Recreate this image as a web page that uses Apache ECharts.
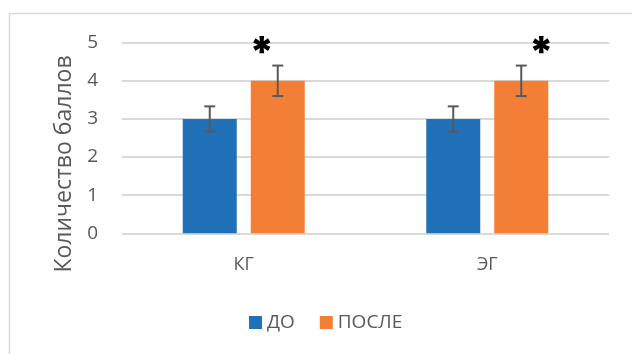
<!DOCTYPE html>
<html>
<head>
<meta charset="utf-8">
<script src="https://cdn.jsdelivr.net/npm/echarts@6/dist/echarts.min.js"></script>
<style>
  html, body { margin: 0; padding: 0; background: #fff; }
  #chart { width: 632px; height: 354px; }
</style>
</head>
<body>
<div id="chart"></div>
<script>
// Scores before and after, per group
const categories = ['КГ', 'ЭГ'];
const seriesNames = ['ДО', 'ПОСЛЕ'];
const valuesBefore = [3, 3];
const valuesAfter = [4, 4];
const errorsBefore = [0.33, 0.33];
const errorsAfter = [0.4, 0.4];
const marksAfter = ['*', '*'];
const yTicks = [0, 1, 2, 3, 4, 5];
const yTitle = 'Количество баллов';

const BLUE = '#2171b9';
const ORANGE = '#f27f35';
const TEXT = '#595959';
const GRID = '#d9d9d9';
const FONT = '"Open Sans", "Noto Sans", sans-serif';

const BAR_W = 54;
const BAR_GAP = 14;
const HALF_STEP = (BAR_W + BAR_GAP) / 2;
// small horizontal nudge of each significance star
const starNudge = [-16, 20];

function errorRenderer(side, withMarks) {
  return function (params, api) {
    const i = api.value(0);
    const v = api.value(1);
    const e = api.value(2);
    const x = api.coord([i, v])[0] + side * HALF_STEP;
    const yTop = api.coord([i, v + e])[1];
    const yBot = api.coord([i, v - e])[1];
    const cap = 5.5;
    const st = { stroke: TEXT, lineWidth: 2 };
    const children = [
      { type: 'line', shape: { x1: x, y1: yTop, x2: x, y2: yBot }, style: st },
      { type: 'line', shape: { x1: x - cap, y1: yTop, x2: x + cap, y2: yTop }, style: st },
      { type: 'line', shape: { x1: x - cap, y1: yBot, x2: x + cap, y2: yBot }, style: st }
    ];
    if (withMarks) {
      const mark = marksAfter[i];
      if (mark) {
        children.push({
          type: 'text',
          style: {
            text: mark, x: x + starNudge[i], y: api.coord([i, yTicks[yTicks.length - 1]])[1] + 12,
            align: 'center', verticalAlign: 'middle',
            font: '900 42px Inter, "DejaVu Sans", sans-serif', fill: '#000'
          }
        });
      }
    }
    return { type: 'group', children: children };
  };
}

const chart = echarts.init(document.getElementById('chart'), null, { renderer: 'canvas' });
chart.setOption({
  animation: false,
  backgroundColor: '#fff',
  graphic: [{
    type: 'rect', silent: true, z: -10,
    shape: { x: 9.5, y: 13.5, width: 700, height: 400 },
    style: { fill: 'none', stroke: GRID, lineWidth: 1.5 }
  }],
  grid: { left: 122, right: 23, top: 42.7, bottom: 120.7, containLabel: false },
  legend: {
    data: seriesNames,
    left: 244, top: 308,
    itemWidth: 13, itemHeight: 13, itemGap: 25,
    icon: 'rect',
    textStyle: { color: TEXT, fontSize: 19, fontFamily: FONT, padding: [0, 0, 0, 0] }
  },
  xAxis: {
    type: 'category',
    data: categories,
    axisLine: { show: false },
    axisTick: { show: false },
    axisLabel: { color: TEXT, fontSize: 18, fontFamily: FONT, margin: 23 }
  },
  yAxis: {
    type: 'value',
    min: yTicks[0], max: yTicks[yTicks.length - 1], interval: 1,
    name: yTitle,
    nameLocation: 'middle',
    nameGap: 41,
    nameTextStyle: { color: TEXT, fontSize: 23, fontFamily: FONT, padding: [0, 52, 0, 0] },
    axisLine: { show: false },
    axisTick: { show: false },
    axisLabel: { color: TEXT, fontSize: 19, fontFamily: FONT, margin: 24 },
    splitLine: { lineStyle: { color: GRID, width: 2 } }
  },
  series: [
    {
      name: seriesNames[0], type: 'bar', data: valuesBefore,
      barWidth: BAR_W, barGap: (BAR_GAP / BAR_W * 100) + '%',
      itemStyle: { color: BLUE }, z: 2
    },
    {
      name: seriesNames[1], type: 'bar', data: valuesAfter,
      barWidth: BAR_W,
      itemStyle: { color: ORANGE }, z: 2
    },
    {
      type: 'custom', silent: true, z: 5,
      renderItem: errorRenderer(-1, false),
      data: categories.map((c, i) => [i, valuesBefore[i], errorsBefore[i]])
    },
    {
      type: 'custom', silent: true, z: 5,
      renderItem: errorRenderer(1, true),
      data: categories.map((c, i) => [i, valuesAfter[i], errorsAfter[i]])
    }
  ]
});
</script>
</body>
</html>
